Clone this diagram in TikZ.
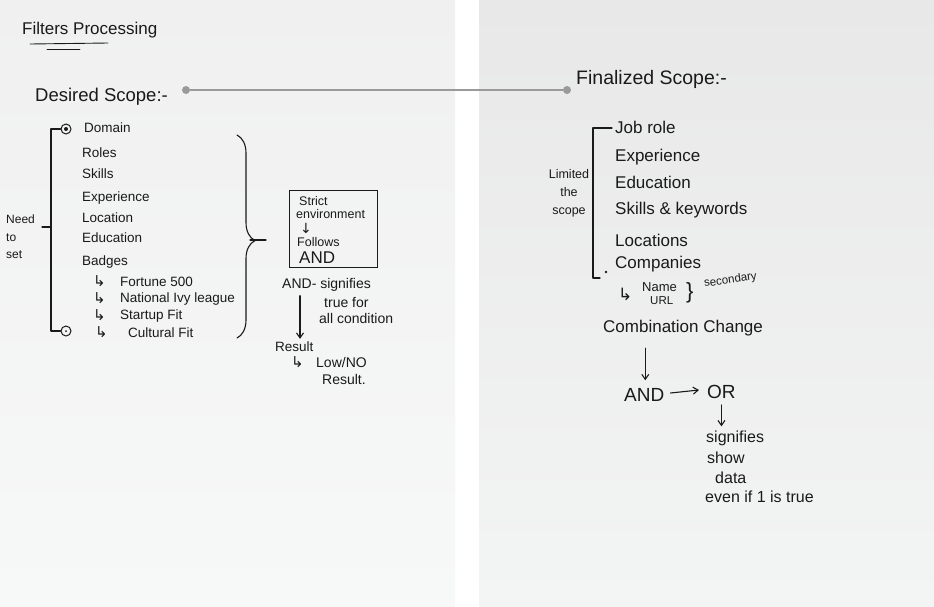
\documentclass[tikz,border=0pt]{standalone}
\usepackage{fontspec}
\setmainfont{Liberation Sans}
\newfontfamily\symfont{DejaVu Sans}
\usetikzlibrary{arrows.meta,decorations.pathreplacing,calc}

\definecolor{ink}{HTML}{1A1A1A}
\definecolor{leftpaper}{HTML}{F0F0F0}
\definecolor{leftpaperlow}{HTML}{F7F8F8}
\definecolor{rightpaper}{HTML}{E8E8E8}
\definecolor{rightpaperlow}{HTML}{F3F4F4}
\definecolor{linkgray}{HTML}{9A9A9A}

\tikzset{
  txt/.style={anchor=west, inner sep=0pt, text=ink, font=\fontsize{13.5}{15}\selectfont},
  subtxt/.style={txt, font=\fontsize{13.5}{15}\selectfont},
  hookarrow/.style={txt, font=\fontsize{15}{16}\symfont},
  bigtxt/.style={txt, font=\fontsize{17}{19}\selectfont},
  headtxt/.style={txt, font=\fontsize{18.5}{20}\selectfont},
  boxtxt/.style={txt, font=\fontsize{12.5}{14}\selectfont},
  notetxt/.style={txt, font=\fontsize{14}{16}\selectfont},
  ortxt/.style={txt, font=\fontsize{16}{18}\selectfont},
  pen/.style={draw=ink, line width=1.1pt, line cap=round, line join=round},
  penarrow/.style={pen, -{Straight Barb[length=5pt,width=7pt]}},
  linkdot/.style={circle, fill=linkgray, inner sep=0pt, minimum size=8pt},
  ringdot/.style={circle, draw=ink, line width=1pt, inner sep=0pt, minimum size=10pt},
}

\begin{document}
\begin{tikzpicture}[x=1pt,y=-1pt]
  % paper sheets and the white gap between them
  \fill[white] (0,0) rectangle (934,606);
  \shade[top color=leftpaper, bottom color=leftpaperlow] (0,0) rectangle (455,606);
  \shade[top color=rightpaper, bottom color=rightpaperlow] (479,0) rectangle (934,606);
  \useasboundingbox (0,0) rectangle (934,606);

  % ---------------- left sheet ----------------
  \node[txt, font=\fontsize{17}{19}\selectfont] (title) at (22,30) {Filters Processing};
  \draw[pen, line width=0.9pt] (30,44) -- (108,43);
  \draw[pen, line width=0.9pt] (47,49) -- (80,49);

  \node[headtxt] (desired) at (35,97) {Desired Scope:-};
  \node[linkdot] (dsdot) at (186,90) {};

  % list of filters
  \node[txt] (domain) at (84,128) {Domain};
  \node[txt] (roles) at (82,153) {Roles};
  \node[txt] (skills) at (82,174) {Skills};
  \node[txt] (exp) at (82,198) {Experience};
  \node[txt] (loc) at (82,218) {Location};
  \node[txt] (edu) at (82,238) {Education};
  \node[txt] (badges) at (82,262) {Badges};
  \node[hookarrow] (a1) at (93,281) {↳};
  \node[hookarrow] (a2) at (93,298) {↳};
  \node[hookarrow] (a3) at (93,315) {↳};
  \node[hookarrow] (a4) at (95,332) {↳};
  \node[subtxt] (b1) at (120,282) {Fortune 500};
  \node[subtxt] (b2) at (120,299) {National Ivy league};
  \node[subtxt] (b3) at (120,316) {Startup Fit};
  \node[subtxt] (b4) at (128,333) {Cultural Fit};

  % bracket with ring ends
  \node[ringdot] (ringtop) at (66,129) {};
  \node[ringdot] (ringbot) at (66,331) {};
  \fill[ink] (ringtop.center) circle (2pt);
  \fill[ink] (ringbot.center) circle (1pt);
  \draw[pen] (ringtop.west) -- (51,129) -- (51,331) -- (ringbot.west);
  \node[txt, align=left, font=\fontsize{12}{17.5}\selectfont] (needset) at (6,237) {Need\\to\\set};
  \draw[pen] (42,227) -- (51,227);

  % curly brace gathering the list
  \draw[pen, decorate, decoration={brace, amplitude=18pt, aspect=0.52}] (237,135) -- (237,338);
  \draw[pen] (250,240) -- (266,240);

  % strict environment box
  \node[draw=ink, line width=1.1pt, anchor=north west, minimum width=88pt, minimum height=77pt,
        inner sep=0pt] (strictbox) at (289,190) {};
  \node[boxtxt] (strict) at (299,201) {Strict};
  \node[boxtxt] (envir) at (296,214) {environment};
  \node[txt, font=\fontsize{14}{15}\symfont] (envarrow) at (300,228) {↓};
  \node[boxtxt] (follows) at (297,242) {Follows};
  \node[txt, font=\fontsize{17}{18}\selectfont] (boxand) at (299,258) {AND};

  \node[notetxt] (andsig) at (282,285) {AND- signifies};
  \node[notetxt] (truefor) at (324,302) {true for};
  \node[notetxt] (allcond) at (319,318) {all condition};
  \node[txt, font=\fontsize{13.5}{15}\selectfont] (result) at (275,347) {Result};
  \node[hookarrow] (lowarrow) at (291,362) {↳};
  \node[notetxt] (lowno) at (316,362) {Low/NO};
  \node[notetxt] (resultdot) at (322,379) {Result.};
  \coordinate (sigfoot) at ($(andsig.south west)+(18,4)$);
  \coordinate (reshead) at (sigfoot |- result.north);
  \draw[penarrow] (sigfoot) -- ($(reshead)+(0,-3)$);

  % link between the two scopes
  \node[linkdot] (fsdot) at (567,90) {};
  \draw[linkgray, line width=1.6pt] (dsdot) -- (fsdot);

  % ---------------- right sheet ----------------
  \node[headtxt, font=\fontsize{19.5}{21}\selectfont] (final) at (576,79) {Finalized Scope:-};

  \node[bigtxt] (jobrole) at (615,127) {Job role};
  \node[bigtxt] (rexp) at (615,157) {Experience};
  \node[bigtxt] (redu) at (615,182) {Education};
  \node[bigtxt] (rskills) at (615,210) {Skills \& keywords};
  \node[bigtxt] (rloc) at (615,240) {Locations};
  \node[bigtxt] (rcomp) at (615,264) {Companies};

  \draw[pen] (612,128) -- (593,128) -- (593,278) -- (600,278);
  \fill[ink] (606,272) circle (1.4pt);
  \node[txt, align=center, font=\fontsize{12.5}{18}\selectfont, anchor=center] (limited) at (569,193) {Limited\\the\\scope};

  % secondary company fields
  \node[txt, font=\fontsize{17}{18}\symfont] (mark) at (618,294) {↳};
  \node[txt, font=\fontsize{13}{14}\selectfont] (cname) at (642,287) {Name};
  \node[txt, font=\fontsize{11.5}{13}\selectfont] (curl) at (650,301) {URL};
  \node[txt, font=\fontsize{22}{23}\selectfont] (cbrace) at (686,293) {\}};
  \node[txt, font=\fontsize{11.5}{13}\selectfont, rotate=8] (csec) at (704,284) {secondary};

  \node[bigtxt] (comb) at (603,328) {Combination Change};
  \node[txt, font=\fontsize{19}{20}\selectfont] (andop) at (624,395) {AND};
  \node[txt, font=\fontsize{19}{20}\selectfont] (orop) at (707,392) {OR};
  \coordinate (combfoot) at ($(comb.south -| andop.north)+(1,12)$);
  \draw[penarrow] (combfoot) -- ($(andop.north)+(1,-8)$);
  \draw[penarrow] ($(andop.east)+(6,-2)$) -- ($(orop.west)+(-8,-2)$);

  \node[ortxt] (rsig) at (706,438) {signifies};
  \node[ortxt] (rshow) at (707,458) {show};
  \node[ortxt] (rdata) at (715,478) {data};
  \node[ortxt] (reven) at (705,497) {even if 1 is true};
  \draw[penarrow] ($(orop.south)+(0,6)$) -- ($(orop.south |- rsig.north)+(0,-4)$);
\end{tikzpicture}
\end{document}
